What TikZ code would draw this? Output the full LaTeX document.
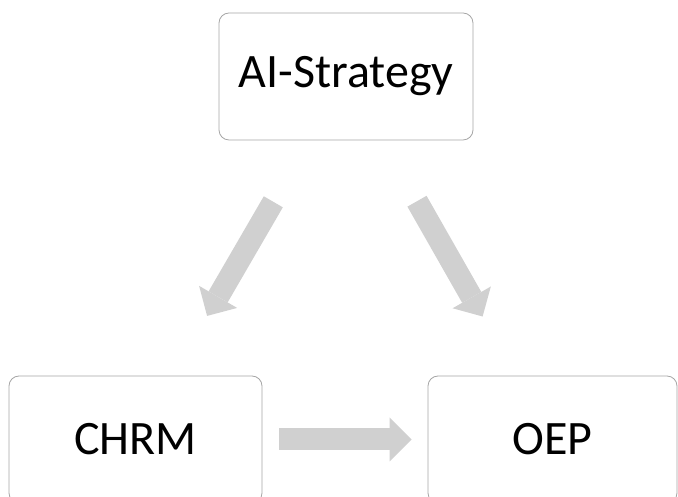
\documentclass[tikz,border=0pt]{standalone}
\usepackage{fontspec}
\setmainfont{Carlito}
\usetikzlibrary{arrows.meta}
\definecolor{boxline}{HTML}{A6A6A6}
\definecolor{flowgray}{HTML}{D0D0D0}

\begin{document}
\begin{tikzpicture}[x=1pt, y=1pt,
    box/.style={draw=boxline, line width=0.8pt, rounded corners=10pt,
        fill=white, font=\fontsize{48}{58}\selectfont},
    flow/.style={draw=flowgray, line width=22pt,
        -{Triangle[length=22pt, width=44pt, line width=0pt]}}]
    \useasboundingbox (0,0) rectangle (678,497);

    % Boxes
    \node[box, minimum width=254pt, minimum height=127pt] (ai) at (346,420.5) {AI-Strategy};
    \node[box, minimum width=253pt, minimum height=127pt] (chrm) at (135.5,57.5) {CHRM};
    \node[box, minimum width=249pt, minimum height=127pt] (oep) at (552.5,57.5) {OEP};

    % Arrows
    \draw[flow, shorten <=71pt, shorten >=69pt] (ai) -- (chrm);
    \draw[flow, shorten <=70pt, shorten >=68pt] (ai) -- (oep);
    \draw[flow, shorten <=17pt, shorten >=16pt] (chrm) -- (oep);
\end{tikzpicture}
\end{document}
